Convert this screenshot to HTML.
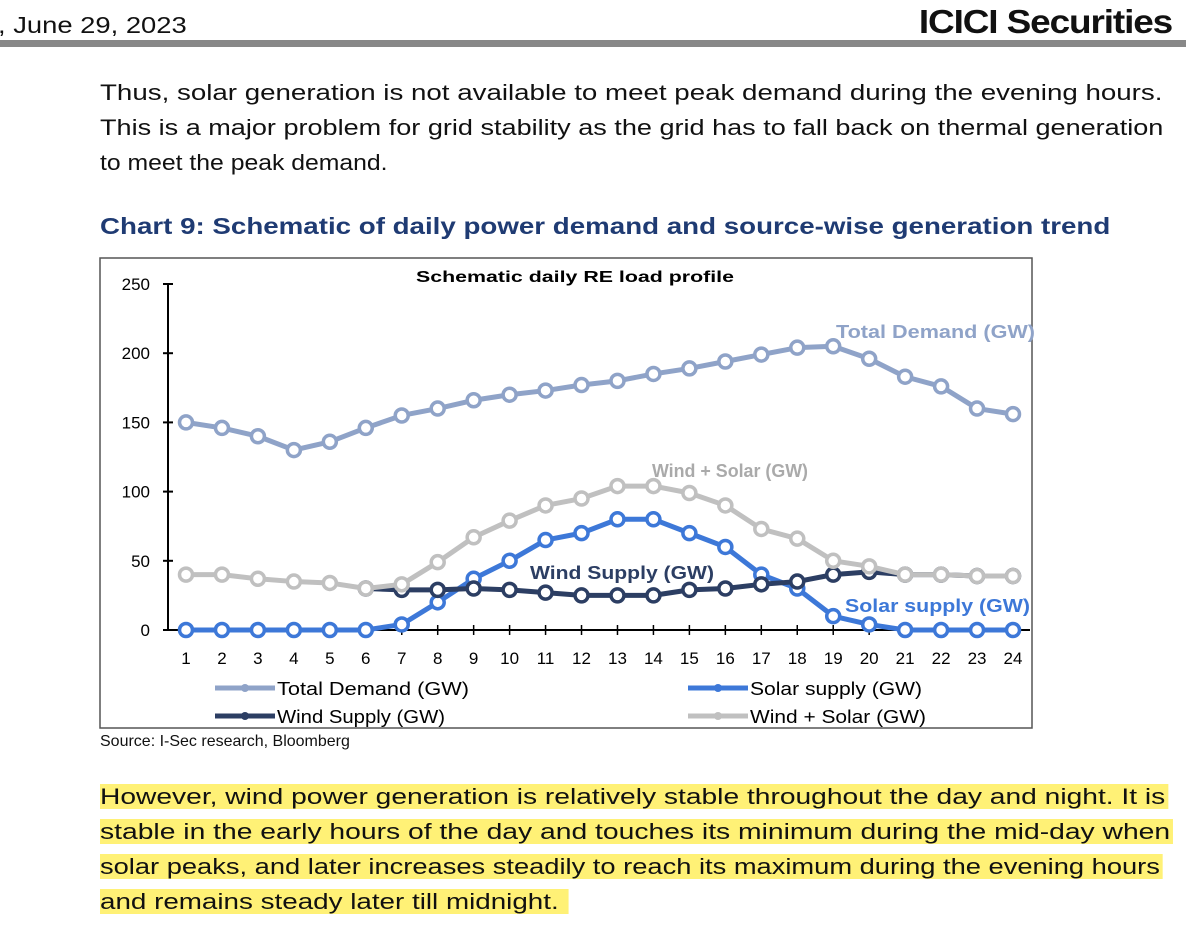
<!DOCTYPE html>
<html><head><meta charset="utf-8"><style>
body{margin:0;width:1200px;height:932px;background:#fff;position:relative;overflow:hidden;font-family:"Liberation Sans",Arial,sans-serif;color:#111}
.abs{position:absolute;white-space:nowrap}
.ln{position:absolute;left:100px;font-size:22px;line-height:30px;white-space:nowrap;transform-origin:0 50%}
.hl{background:#fff176;padding-right:2px}
</style></head><body>
<div class="abs" style="left:-2px;top:12px;font-size:23px;transform:scaleX(1.19);transform-origin:0 50%">, June 29, 2023</div>
<div class="abs" style="right:28px;top:3px;font-size:33px;font-weight:bold;letter-spacing:-1px;transform:scaleX(1.12);transform-origin:100% 50%">ICICI Securities</div>
<div class="abs" style="left:0;top:40px;width:1186px;height:7px;background:#888"></div>
<div>
<div class="ln" style="top:78px;transform:scaleX(1.259)">Thus, solar generation is not available to meet peak demand during the evening hours.</div>
<div class="ln" style="top:113px;transform:scaleX(1.230)">This is a major problem for grid stability as the grid has to fall back on thermal generation</div>
<div class="ln" style="top:148px;transform:scaleX(1.125)">to meet the peak demand.</div>
</div>
<div class="abs" style="left:100px;top:213px;font-size:23px;font-weight:bold;color:#1f3b73;transform:scaleX(1.205);transform-origin:0 50%">Chart 9: Schematic of daily power demand and source-wise generation trend</div>
<svg class="abs" style="left:0;top:0" width="1200" height="760" id="chart"></svg>
<div class="abs" style="left:100px;top:733px;font-size:16px">Source: I-Sec research, Bloomberg</div>
<div>
<div class="ln" style="top:782px;transform:scaleX(1.281)"><span class="hl">However, wind power generation is relatively stable throughout the day and night. It is</span></div>
<div class="ln" style="top:817px;transform:scaleX(1.285)"><span class="hl">stable in the early hours of the day and touches its minimum during the mid-day when</span></div>
<div class="ln" style="top:852px;transform:scaleX(1.240)"><span class="hl">solar peaks, and later increases steadily to reach its maximum during the evening hours</span></div>
<div class="ln" style="top:887px;transform:scaleX(1.263)"><span class="hl">and remains steady later till midnight.&nbsp;</span></div>
</div>
<script>
const hours=[1,2,3,4,5,6,7,8,9,10,11,12,13,14,15,16,17,18,19,20,21,22,23,24];
const totalDemand=[150,146,140,130,136,146,155,160,166,170,173,177,180,185,189,194,199,204,205,196,183,176,160,156];
const solarSupply=[0,0,0,0,0,0,4,20,37,50,65,70,80,80,70,60,40,30,10,4,0,0,0,0];
const windSupply=[40,40,37,35,34,30,29,29,30,29,27,25,25,25,29,30,33,35,40,42,40,40,39,39];
const windSolar=[40,40,37,35,34,30,33,49,67,79,90,95,104,104,99,90,73,66,50,46,40,40,39,39];
const yTicks=[0,50,100,150,200,250];
const NS="http://www.w3.org/2000/svg";
const svg=document.getElementById('chart');
const X=h=>186+(h-1)*(1013-186)/23;
const Y=v=>630-v*346/250;
function mk(t,a,txt){const e=document.createElementNS(NS,t);for(const k in a)e.setAttribute(k,a[k]);if(txt!==undefined)e.textContent=txt;svg.appendChild(e);return e;}
let e=mk('rect',{x:100,y:258,width:932,height:470,fill:'none',stroke:'#555','stroke-width':1.5});

e=mk('text',{x:575,y:282,'text-anchor':'middle','font-size':16,'font-weight':'bold','font-family':'Liberation Sans, sans-serif',textLength:318,lengthAdjust:'spacingAndGlyphs'},'Schematic daily RE load profile');

e=mk('line',{x1:168,y1:Y(0),x2:168,y2:Y(250),stroke:'#000','stroke-width':2});

e=mk('line',{x1:168,y1:Y(0),x2:1030,y2:Y(0),stroke:'#000','stroke-width':2});

yTicks.forEach(v=>{mk('line',{x1:163,y1:Y(v),x2:173,y2:Y(v),stroke:'#000','stroke-width':2});
e=mk('text',{x:150,y:Y(v)+6,'text-anchor':'end','font-size':17,'font-family':'Liberation Sans, sans-serif'},v);
});
hours.forEach(h=>{mk('line',{x1:X(h),y1:Y(0)-5,x2:X(h),y2:Y(0)+5,stroke:'#000','stroke-width':1.5});
e=mk('text',{x:X(h),y:664,'text-anchor':'middle','font-size':17,'font-family':'Liberation Sans, sans-serif'},h);
});
function series(vals,color,name,start){
  const idx=hours.map((h,i)=>i).filter(i=>i>=start);
  const pl=mk('polyline',{points:idx.map(i=>X(hours[i])+','+Y(vals[i])).join(' '),fill:'none',stroke:color,'stroke-width':5,'stroke-linejoin':'round'});
  
  idx.forEach(i=>{const c=mk('circle',{cx:X(hours[i]),cy:Y(vals[i]),r:6.5,fill:'#fff',stroke:color,'stroke-width':3.5});
  });
}
series(totalDemand,'#8fa3c8','total-demand',0);
series(solarSupply,'#3d78d8','solar-supply',0);
series(windSupply,'#2c3e63','wind-supply',5);
series(windSolar,'#c0c0c0','wind-solar',0);
[['Total Demand (GW)',836,338,'#8fa3c8',199],['Wind + Solar (GW)',652,477,'#aaa',156],['Wind Supply (GW)',530,579,'#2c3e63',184],['Solar supply (GW)',845,612,'#3d78d8',185]].forEach(d=>{
  e=mk('text',{x:d[1],y:d[2],'font-size':18,'font-weight':'bold',fill:d[3],'font-family':'Liberation Sans, sans-serif',textLength:d[4],lengthAdjust:'spacingAndGlyphs'},d[0]);
  });
[['Total Demand (GW)',215,688,'#8fa3c8',192],['Solar supply (GW)',688,688,'#3d78d8',172],['Wind Supply (GW)',215,716,'#2c3e63',168],['Wind + Solar (GW)',688,716,'#c0c0c0',176]].forEach(d=>{
  mk('line',{x1:d[1],y1:d[2],x2:d[1]+60,y2:d[2],stroke:d[3],'stroke-width':5});
  mk('circle',{cx:d[1]+30,cy:d[2],r:4,fill:d[3]});
  e=mk('text',{x:d[1]+62,y:d[2]+7,'font-size':18,'font-family':'Liberation Sans, sans-serif',textLength:d[4],lengthAdjust:'spacingAndGlyphs'},d[0]);
  });
</script>
</body></html>
